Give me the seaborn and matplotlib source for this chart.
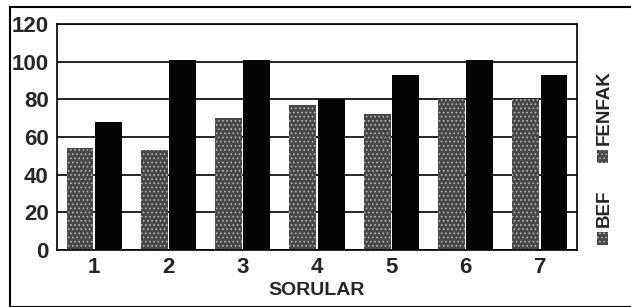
import matplotlib
matplotlib.use("Agg")
import matplotlib.pyplot as plt
from matplotlib.patches import Rectangle
import seaborn as sns
import pandas as pd

categories = ["1", "2", "3", "4", "5", "6", "7"]
bef = [54, 53, 70, 77, 72, 80, 80]
fenfak = [68, 101, 101, 80, 93, 101, 93]
series_names = ["BEF", "FENFAK"]
yticks = [0, 20, 40, 60, 80, 100, 120]

sns.set_theme(style="white")
plt.rcParams['font.family'] = ['Liberation Sans', 'DejaVu Sans']
plt.rcParams['font.weight'] = 'bold'
plt.rcParams['hatch.linewidth'] = 0.7

df = pd.DataFrame({
    "soru": categories * 2,
    "value": bef + fenfak,
    "seri": [series_names[0]] * len(categories) + [series_names[1]] * len(categories),
})

fig = plt.figure(figsize=(6.31, 3.07), dpi=100)
ax = fig.add_axes([0.0903, 0.1857, 0.9144 - 0.0903, 0.9218 - 0.1857])

sns.barplot(data=df, x="soru", y="value", hue="seri", ax=ax,
            palette={"BEF": "#474747", "FENFAK": "#050505"},
            width=0.76, gap=0.05, legend=False, saturation=1)

nb = len(categories)
for p in ax.patches[:nb]:
    p.set_hatch("....")
    p.set_edgecolor("#b5b5b5")
    p.set_linewidth(0.0)
for p in ax.patches[nb:]:
    p.set_linewidth(0)

ax.set_ylim(0, 120)
ax.set_xlim(-0.5, nb - 0.5)
ax.set_yticks(yticks)
ax.set_yticklabels([str(t) for t in yticks], fontsize=16, fontweight='bold')
ax.set_xticklabels(categories, fontsize=16, fontweight='bold')
ax.tick_params(axis='x', length=0, pad=5)
ax.tick_params(axis='y', length=0, pad=6)
ax.yaxis.grid(True, color='black', linewidth=1.2)
ax.set_axisbelow(True)
for s in ax.spines.values():
    s.set_color('black')
    s.set_linewidth(1.2)
ax.set_ylabel("")
ax.set_xlabel("SORULAR", fontsize=14, fontweight='bold', labelpad=3)

# outer frame
fig.patches.append(Rectangle((10 / 631, 0.0), 1.2, 1 - 7 / 307,
                             transform=fig.transFigure, fill=False,
                             edgecolor='black', linewidth=1.5))

# legend (rotated)
def leg_patch(y0, name):
    fig.patches.append(Rectangle((597 / 631, 1 - (y0 + 13) / 307), 11 / 631, 13 / 307,
                                 transform=fig.transFigure, facecolor='#474747',
                                 hatch='....', edgecolor='#b5b5b5', linewidth=0))
    fig.text(604 / 631, 1 - (y0 - 5) / 307, name, rotation=90, ha='center', va='bottom',
             fontsize=13.5, fontweight='bold')

leg_patch(232, series_names[0])
leg_patch(150, series_names[1])

fig.savefig("out.png", dpi=100, facecolor='white')
